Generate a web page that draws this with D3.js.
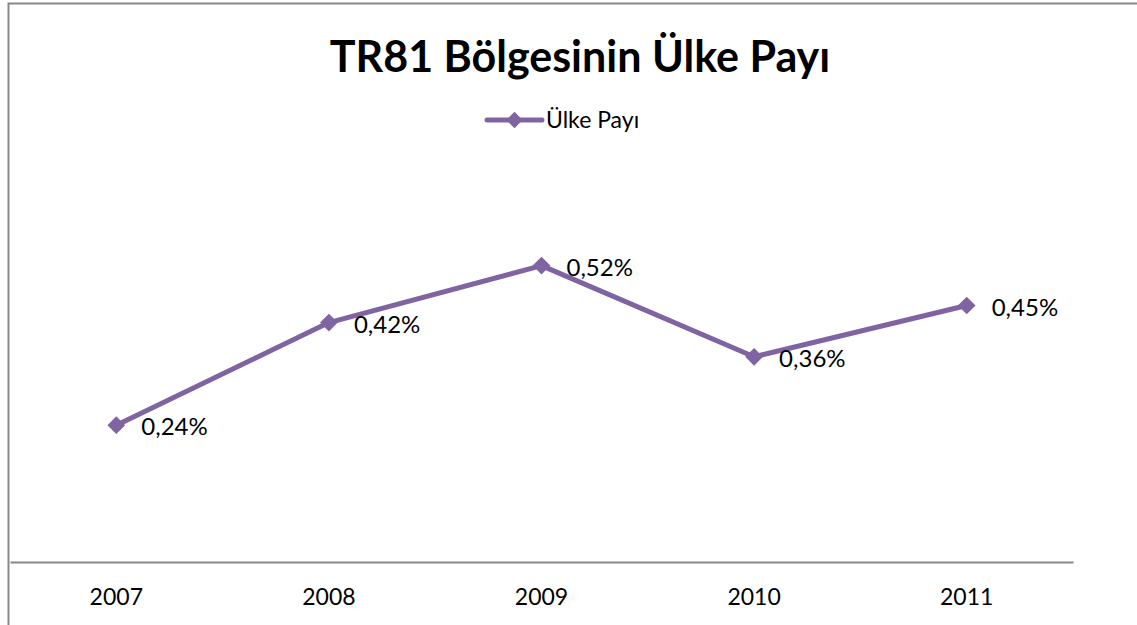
<!DOCTYPE html>
<html>
<head>
<meta charset="utf-8">
<script src="https://cdn.jsdelivr.net/npm/d3@7"></script>
<style>
    body { margin: 0; background: #fff; }
    svg { display: block; font-family: Lato, "Open Sans", sans-serif; }
</style>
</head>
<body>
<div id="wrapper"></div>
<script>
const years = ["2007", "2008", "2009", "2010", "2011"];
const shares = [0.0024, 0.0042, 0.0052, 0.0036, 0.0045];
const labels = ["0,24%", "0,42%", "0,52%", "0,36%", "0,45%"];
const seriesName = "Ülke Payı";
const title = "TR81 Bölgesinin Ülke Payı";

function build() {
    var dimension = {
        width: 1137,
        height: 625,
        margin: { top: 220, right: 64, bottom: 63, left: 10 }
    };
    dimension.boundedWidth = dimension.width - dimension.margin.left - dimension.margin.right;
    dimension.boundedHeight = dimension.height - dimension.margin.top - dimension.margin.bottom;

    const purple = "#8064a2";

    const wrapper = d3.select("#wrapper")
        .append("svg")
        .attr("width", dimension.width)
        .attr("height", dimension.height);

    // chart frame (cut off at right and bottom)
    wrapper.append("path")
        .attr("d", "M8.5,640 V3.5 H1150")
        .attr("fill", "none")
        .attr("stroke", "#878787")
        .attr("stroke-width", 2);

    // title
    wrapper.append("text")
        .attr("x", 580)
        .attr("y", 72)
        .attr("text-anchor", "middle")
        .style("font-size", "43px")
        .style("font-weight", "bold")
        .text(title);

    // legend
    const legend = wrapper.append("g").attr("transform", "translate(487,120)");
    legend.append("line")
        .attr("x1", 0).attr("x2", 55)
        .attr("stroke", purple).attr("stroke-width", 5).attr("stroke-linecap", "round");
    legend.append("path")
        .attr("d", d3.symbol(d3.symbolDiamond2, 170)())
        .attr("transform", "translate(27.5,0)")
        .attr("fill", purple);
    legend.append("text")
        .attr("x", 59).attr("y", 8)
        .style("font-size", "23px")
        .text(seriesName);

    const bounds = wrapper.append("g")
        .attr("transform", `translate(${dimension.margin.left},${dimension.margin.top})`);

    const x = d3.scaleBand()
        .domain(years)
        .range([0, dimension.boundedWidth]);

    const y = d3.scaleLinear()
        .domain([0, 0.006])
        .range([dimension.boundedHeight, 0]);

    // category axis
    const xAxis = bounds.append("g")
        .attr("transform", `translate(0,${dimension.boundedHeight})`)
        .call(d3.axisBottom(x).tickSize(0).tickPadding(27));
    xAxis.select(".domain")
        .attr("stroke", "#878787")
        .attr("stroke-width", 2);
    xAxis.selectAll("text")
        .attr("fill", "#000")
        .style("font-family", "Lato, 'Open Sans', sans-serif")
        .style("font-size", "23px");

    const pts = years.map((yr, i) => ({ yr, v: shares[i], lab: labels[i] }));

    const line = d3.line()
        .x(d => x(d.yr) + x.bandwidth() / 2)
        .y(d => y(d.v));

    bounds.append("path")
        .datum(pts)
        .attr("d", line)
        .attr("fill", "none")
        .attr("stroke", purple)
        .attr("stroke-width", 5)
        .attr("stroke-linejoin", "round");

    bounds.selectAll(".marker")
        .data(pts)
        .enter()
        .append("path")
        .attr("class", "marker")
        .attr("d", d3.symbol(d3.symbolDiamond2, 200)())
        .attr("transform", d => `translate(${x(d.yr) + x.bandwidth() / 2},${y(d.v)})`)
        .attr("fill", purple);

    bounds.selectAll(".label")
        .data(pts)
        .enter()
        .append("text")
        .attr("class", "label")
        .attr("x", d => x(d.yr) + x.bandwidth() / 2 + 25)
        .attr("y", d => y(d.v) + 10)
        .style("font-size", "24px")
        .text(d => d.lab);
}

build();
</script>
</body>
</html>
